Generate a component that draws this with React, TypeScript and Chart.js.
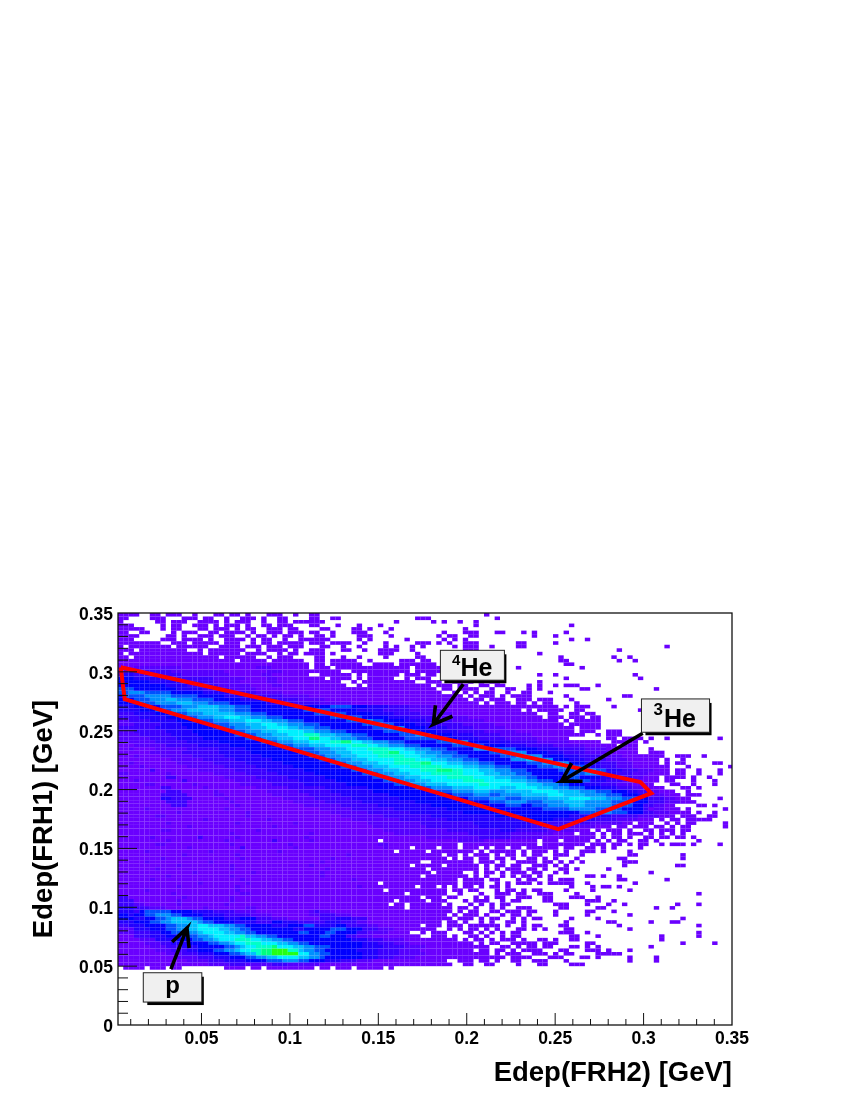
import React, { useEffect, useRef } from "react";
import { Chart, registerables } from "chart.js";

Chart.register(...registerables);

// Axis ticks (values and their labels)
const xTickValues = [0.05, 0.1, 0.15, 0.2, 0.25, 0.3, 0.35];
const xTickLabels = ["0.05", "0.1", "0.15", "0.2", "0.25", "0.3", "0.35"];
const yTickValues = [0, 0.05, 0.1, 0.15, 0.2, 0.25, 0.3, 0.35];
const yTickLabels = ["0", "0.05", "0.1", "0.15", "0.2", "0.25", "0.3", "0.35"];
const xMinorValues = [0.01, 0.02, 0.03, 0.04, 0.06, 0.07, 0.08, 0.09, 0.11, 0.12, 0.13, 0.14, 0.16, 0.17, 0.18, 0.19, 0.21, 0.22, 0.23, 0.24, 0.26, 0.27, 0.28, 0.29, 0.31, 0.32, 0.33, 0.34];
const yMinorValues = [0.01, 0.02, 0.03, 0.04, 0.06, 0.07, 0.08, 0.09, 0.11, 0.12, 0.13, 0.14, 0.16, 0.17, 0.18, 0.19, 0.21, 0.22, 0.23, 0.24, 0.26, 0.27, 0.28, 0.29, 0.31, 0.32, 0.33, 0.34];

// Histogram binning
const xFirst = 0.0028;
const binSize = 0.003;
const yTop = 0.35;

// Colour level of each bin: a..l, "." = empty bin; a number repeats the preceding symbol; @n jumps to column n.
const levelColors: Record<string, string> = {
  a: "#6a00ff", b: "#5500ff", c: "#3c00ff", d: "#2200ff", e: "#0000ff", f: "#0050ff",
  g: "#0090ff", h: "#00c0ff", i: "#00f0ff", j: "#00ffc8", k: "#00ff80", l: "#24ff14",
};
const histogramRows = [
  "a4.2a2.a3.2a.3a2.a2.a.3a3.2a@36a2@69a",
  "a2.4a3.3a3.a2.2a.2a3.a.2a2@36a2@40a2@56a3@71a",
  "a.6a2.a3.2a4.a.a3.2a.2a2.a@34a5@52a@59a@61a@64a@67a",
  "a3.5a.a2.2a3.a.a3.a.2a2.a3@36a2@41a@45a@49a@67a@85a",
  "a5.3a.a2.3a2.a3.a.a2.2a3.a2@38a2@44a2@47a@51a@65a",
  "a2.2a2.4a.a3.2a2.a4.a.2a3.a2@34a@36a2@40a@44a3@50a@61a@65a3@71a2@76a@78a@84a",
  "a4.5a2.a.2a3.a3.2a.a2.a.a2@34a@37a2@40a@45a3@51a@60a@62a2@66a2@78a@82a",
  "a3.5a3.a4.a.2a4.a.a2.2a.2a2@34a@36a4@45a@47a@54a@61a@63a@65a@85a@88a",
  "a8.2a3.a5.a3.2a.a2.a4@34a@36a3@40a4@46a@50a@56a3@60a@62a@65a3@75a2@82a",
  "a.a8.a6.2a4.a3.a3.a2@34a@38a2@42a@45a@50a@52a@55a@57a@63a@65a3@70a@75a2@103a@76a",
  "a3.a9.2a.a7.2a.a4.a@36a3@42a2@46a@49a4@55a@65a3@94a",
  "a.a14.a6.a4.2a.a2@35a4@40a@49a3@56a@64a@66a@79a",
  "a2.a16.a6.2a.a3@37a2@42a@45a@50a@56a2@83a@93a@96a",
  "a22.a5.a5@34a@37a2@40a5@47a@53a3@57a2@83a2@94a@97a",
  "a36.a2.a6.2a4.a7@84a2",
  "a3b9a14b3a7.a3.a14.a5@75a@87a",
  "b2c8b10a8b3a11.2a11.a5@64a@69a2",
  "d3c9b9a6b2a7.2a6.a.a6.a3.a2.2a.a2.a@72a@79a@82a@97a",
  "e3d8c7b6a4b2a9.a4.a.a5.2a.a3.2a.a2.a2@72a@84a@98a",
  "e6d6c6b5a5b2a12.2a.a10.2a3.2a2.a.a@70a2@79a",
  "e9d4c6b6a4b2a12.2a.a12.a3.a2.3a.a@68a@72a@77a@79a@82a@84a2@86a@90a",
  "f3e8d5c5b5a34.a2.a4.2a.3a@73a@77a@79a@87a2@101a",
  "f2g3f5e6d5c5b5a30.2a.a.a.a2.2a@73a@76a2@81a",
  "e1f4g5f5e5d6c5b5a29.a.a3.a.2a2@74a@77a@84a@95a2",
  "e3f3g3h2g3f4e5d6c5b5a27.a2.a3.2a3.a@76a2@80a2@85a@92a",
  "e4f3g4h3g3f4e7d5c5b6a24.a.a3.a2.a@76a@78a@80a2@86a",
  "d3e5f4g3h4g3f3e15f4e3d4c4b4a24.a.a3@78a3@82a@93a",
  "d4e3f3g3h6g3f3e10f5e5d5c5b6a15.a.a2@81a3@86a2@98a",
  "c3d4e3f3g3h6g3f3e9f6e5d4c5b6a16@81a2@85a2@88a2",
  "c4d5e3f3g3h2i3h2g3f3e9f6e5d4c5b6a14@81a3@85a3@89a2",
  "b2c4d5e4f3g3h3i3h2g3f3e8f3g2f2e4d4c5b6a14@84a@86a5",
  "b3c5d4e6f3g3h3i3h2g3f3e8f6e4d4c5b6a13@85a6",
  "c7d6e6f3g3h3i4h2g3f3e8f3g3e4d4c5b6a13@87a4",
  "b3c6d5e7f3g3h3i5h2g3f3e7f6e4d4c5b6a11@87a3.2a3",
  "b4c6d5e7f4g3h3i3j3h3g3f3e6f3g3e4d4c5b6a10@90a@92a3",
  "b6c5d5e8f3g3h3i3k2i2h2g3f3e6f6e4d4c5b6a6@92a2@95a4@100a@103a@113a",
  "b7c6d6e8f3g3h3i4j2k2i2h2g3f3e6f3g3e4d4c5b6a6@93a2@95a3@99a",
  "a3b6c6d6e9f3g3h3i5j3i2h2g3f3e6f6e4d4c5b6a5@92a2@95a3",
  "a2ba4b6c6d5e9f4g3h3i4j4i3h2g3f3e5g3f5e4d4c5b5a3@92a2@96a2@100a",
  "a6b6c7d6e9f4g3h3i4j3k2i3h2g3f3e6f3g4e4d3c4b5a3@96a2@100a3",
  "a3ba4b6c6d7e9f3g3h3i4j5i3h3g3f3e6f3g5e4d3c4b4a4@99a4@105a3@110a",
  "a10b6c6d7e9f3g3h3i5j4i3h3g3f3e6g3h3g2e3d3c4b4a5@99a3@103a@106a",
  "a2ba8b7c6d7e9f3g3h3i3j5k2i3h3g3f3e6f3g5e3d3c3b3a5@103a@105a2@112a2",
  "a4ba8b7c6d7e9f3g3h3i4j6i4h3g3f3e5f3g4f2d3c3b3a7@107a@115a",
  "a6ca8b7c6d7e9f3g3h3i4j3k3j2i3h3g3f3e6f4g3f2d3c3b3a3@105a2@109a@113a",
  "b2a7ba8b6c6d7e9f3g3h3i4j6i4h3g3f3e6f4g3d3c3b3a4.a2@109a@113a",
  "a9c2a9b6c6d7e9f3g3h3i5j5i4h3g3f2e5f3e4d3c3b2a3.a@104a3@108a@111a",
  "a3ba8ca9b6c6d7e9f3g3h3i6j4i5h3g2f3e4f3d3c3b3a4@103a2@108a@112a",
  "a5b2a7ba8b6c6d8e9f3g3h4i6j2i7h3g3f2e3d3c3b3a4@104a2@108a@112a",
  "a8c2a6ba9b6c7d8e9f3g4h4i5h3i4h3g3f3e3d3c3b3a3@106a2@109a",
  "a9c3a6ba9b6c6d8e11f4g4h3g3h5i5h4g3f3e3d2c2b2a3@107a",
  "a8c5a5b2a9b7c6d9e12f4g3f2g4h5i3h4g4f3e3d2b3a3@107a2@109a",
  "a8d2c4a6ba10b6c7d9e13f4g3f3g5h4i4h3g3f3e2c3b2a2@106a2@113a",
  "a9c4a8ba11b6c7d10e14f3g4f3g4h4g5f4e3c3b3a@107a2",
  "a10c3a9ba12b7c7d10e14f3e2f3g4h3g5f4e2c2b2a2@109a2@112a",
  "a5ba14ba17b6c8d10e18f5g5f5e4c2b2a3@100a@107a@114a",
  "a11ba12ba15b7c8d10e22f4g2f3e3c2b3a4@109a@112a",
  "a7b2a15ba17b8c9d12e14d8c5b4a3.a3.2a2@106a2@112a",
  "a16ba11ba15b9c9d14e6d8c4b4a3.a.a2.a2.a2@107a3",
  "a9ba12ba10ba13b10c10d14c8b6a2.a3.2a.a.a2@107a2@114a",
  "a13ba15ba18b10c10d10c6b6a3.a2.a3.a2.a.a2@106a2@114a",
  "a8b2a16ba23b12c10d3c6b5a3.a.a3.a.2a2.a.a.a2@103a",
  "a21ba14ba15b14c8b8a4.a3.a.a2.a3.a.a.a@106a",
  "a6ba8ca6ba12ba22b10c6b6a10.a.a2.a.2a2.a2.a2.a@103a@106a",
  "a9ba10ba8ca6ba12.a14b5a10.a3.a5.a.a.a2.2a2.a@109a",
  "a7b2a12ba10ba16b2a13.a14.a8.a3.a2.a.a2.2a.a3.a@102a@113a",
  "a13ba9ca9ba16ba4.a4.a3.a3.a.a2.a2.a6.a2.2a2.a.a@98a",
  "a5ba11ba12ba21.a5.a8.a.a5.a.a3.a.a.2a3.a@96a",
  "a12ba9ba20ba17.a2.a.a3.a.a2.a.a2.2a3.2a@96a2@106a",
  "a8ba14ba16ba21.a.a2.a2.a2.a.2a2.a.a.3a@94a2@106a",
  "a5ba11ba20ba18.2a8.a3.a.2a4.a2.a.a.a@95a3",
  "a11ba9ba14ba18.a5.a6.a.a2.a2.2a3.a.a@95a@105a2",
  "a7ba13ba17ba18.a9.a.a.a3.a2.a.2a2.a@92a",
  "a14ba10ba12ba20.a5.2a.a2.a.a3.a2.2a.a@100a",
  "a9ba11ba16ba18.a8.a.a.2a.a.a2.a.a@88a2@91a@94a",
  "a6ba16ba20ba19.a4.a2.3a.a2.2a.a2@85a@94a2@103a",
  "a15ba8ba24.a14.a4.2a.a.a3.a.a3@84a2@88a@97a",
  "a11ba10ba22ba10.a3.a.a.a2.a.a2.a@85a@89a@91a2@94a",
  "a5ba16ba27.a11.a2.a2.3a.a2.a.a2@84a@89a@96a",
  "a10ba12b2a29.a7.2a.3a.2a3.a2.2a@80a2@86a@109a",
  "c2a10ba8ba35.a3.a2.3a.a.a2.2a3@80a2@85a3@90a",
  "c3a8ba9ba30.a5.a3.3a.a3.2a.a2@80a2@88a3@93a",
  "c3b2a6ba8ba30.a2.a6.a.3a.a.a.a2@82a3@88a@92a@95a@105a@109a",
  "d3c3b3a7ba7b2a28.a8.a2.a.2a.a.2a3@83a2@90a2@101a@104a",
  "d3ce1f5e4d4c4b4a10bcb2a23.a.a2.2a2.a3.a2@82a@88a2@93a",
  "e2de2f2g3f2e4d4c5b4a7b2c3b3a18.a.a3.a.2a.a2.a@82a@88a@96a",
  "e3d2e2f2g1h3g1f2e4d3e3c3b3a6c3d3c3a16.a3.a.a2.2a.a.a2@85a@90a@106a",
  "d3e3f2g2h5g1f2e4d4c3e2d3c5d3c3b2a14.a2.a.2a.a.2a2.a@84a@92a2@100a@104a2",
  "c2d3e4f2g2h2i2h3g2f2e5d3e3f2d4e2c4b2a8.a3.a3.a6.a.2a.a2@83a2@94a@109a",
  "b3d3e3f2g2h2i4h2g2f2e8d2e5f3e3c3b3a8.2a.a.a2.a.a.3a2.a.a@84a2@96a",
  "b3c3d2e2f3g2h1i4h2g2f2e8f2e3f2e4c2b4a4.2a.a3.3a2.a.a.a.a2@83a3@88a@109a",
  "a3c3d3e4f2g2h1i5j1h2g2f2e8f2e3c2b3a9.2a3.a.2a2.a.2a.a2@85a2@90a@102a@109a",
  "a4b3d4e3f2g2h1i3j3i2h2g2f2e11d3c3b4a10.a.a2.a.a3.a@79a2.a@85a2@102a",
  "a5b3c2d3e4f2g2h1i2j3i3h2g2f2e10d3c3b3a12.a.a2.2a3@75a.a2@80a3@88a2@106a@112a",
  "a6b3c3d3e5f2gh1i2j3ki3h2g2f3e6d4c4b4a12.2a2.a@77a2.a2@85a2.a@90a@100a",
  "a7b3c3d2e3f2g2h1i2j2k2l3j2hg2f2e6d4c4b4a10.a2.a2.a.2a3@76a2.a@83a2@88a3.a@96a",
  "a9b3c3d3e3f2gh2jk2l5i2g2f2e6d3c4b5a12.a.a3.2a@79a2.a@84a2@90a3@93a2",
  "a11b4c3d3e3f2g2h2i4h2g2fe7d3c3b4a14.a2.a3@70a2@75a3@81a3@87a2@90a@96a@101a",
  "a13b4c3d4e4f3g3f2e3d3c3b3a14.2a3@68a2.a@74a2@78a3@84a@96a@101a",
  "a17b4c3b5c3b6a18@52.3a8@65a2@69a2@75a@79a2@85a2@87a",
  ".a4.a3.a2.8a4.a2.a9.a2.a3.a5.a@47a",
];

// Red selection polygon (closed)
const polygonX = [0.0043, 0.0066, 0.2518, 0.3044, 0.2982, 0.0043];
const polygonY = [0.3039, 0.2767, 0.1664, 0.1969, 0.2063, 0.3039];

// Arrows: tail, tip, head barb, tip, head barb
const arrow4HeX = [0.198, 0.1811, 0.1919, 0.1811, 0.1823];
const arrow4HeY = [0.2895, 0.2555, 0.2623, 0.2555, 0.2716];
const arrow3HeX = [0.2995, 0.2536, 0.2655, 0.2536, 0.2593];
const arrow3HeY = [0.2479, 0.2071, 0.2071, 0.2071, 0.2224];
const arrowPX = [0.0327, 0.0418, 0.0334, 0.0418, 0.043];
const arrowPY = [0.0475, 0.0823, 0.0705, 0.0823, 0.0654];

// Label boxes: x0, x1, y0, y1 in data units
const box4He = [0.1851, 0.2213, 0.3183, 0.2929];
const box3He = [0.2988, 0.3373, 0.277, 0.2487];
const boxP = [0.0171, 0.0502, 0.0444, 0.0195];

const FONT = '"Liberation Sans", Arial, sans-serif';

function decodeRows() {
  const byLevel: Record<string, Map<number, { x: number; y: number }>> = {};
  histogramRows.forEach((row, j) => {
    let col = 0;
    for (const m of row.matchAll(/@(\d+)|([.a-l])(\d*)/g)) {
      if (m[1]) {
        col = parseInt(m[1], 10);
        continue;
      }
      const n = m[3] ? parseInt(m[3], 10) : 1;
      for (let k = 0; k < n; k++) {
        if (m[2] !== "." && col < 116) {
          const key = j * 1000 + col;
          (byLevel[m[2]] ||= new Map()).set(key, {
            x: xFirst + (col + 0.5) * binSize,
            y: yTop - (j + 0.5) * binSize,
          });
        }
        col++;
      }
    }
  });
  return byLevel;
}

function zip(xs: number[], ys: number[]) {
  return xs.map((x, i) => ({ x, y: ys[i] }));
}

const overlayPlugin = {
  id: "overlay",
  afterDatasetsDraw(chart: any) {
    const { ctx, chartArea: a, scales } = chart;
    const X = (v: number) => scales.x.getPixelForValue(v);
    const Y = (v: number) => scales.y.getPixelForValue(v);
    ctx.save();
    ctx.strokeStyle = "#111";
    ctx.lineWidth = 1;
    const seg = (x0: number, y0: number, x1: number, y1: number) => {
      ctx.beginPath();
      ctx.moveTo(x0, y0);
      ctx.lineTo(x1, y1);
      ctx.stroke();
    };
    xTickValues.slice(0, -1).forEach((v) => seg(X(v), a.bottom, X(v), a.bottom - 12));
    xMinorValues.forEach((v) => seg(X(v), a.bottom, X(v), a.bottom - 6));
    yTickValues.slice(1, -1).forEach((v) => seg(a.left, Y(v), a.left + 19, Y(v)));
    yMinorValues.forEach((v) => seg(a.left, Y(v), a.left + 10, Y(v)));
    ctx.lineWidth = 1.3;
    ctx.strokeRect(a.left, a.top, a.right - a.left, a.bottom - a.top);

    const drawBox = (b: number[]) => {
      const x0 = X(b[0]), x1 = X(b[1]), y0 = Y(b[2]), y1 = Y(b[3]);
      ctx.fillStyle = "#000";
      ctx.fillRect(x0 + 4, y0 + 4, x1 - x0 - 2, y1 - y0 - 1);
      ctx.fillStyle = "#f0f0f0";
      ctx.fillRect(x0, y0, x1 - x0, y1 - y0);
      ctx.strokeStyle = "#222";
      ctx.lineWidth = 1;
      ctx.strokeRect(x0, y0, x1 - x0, y1 - y0);
    };
    drawBox(box4He);
    drawBox(box3He);
    drawBox(boxP);
    ctx.fillStyle = "#000";
    ctx.textBaseline = "alphabetic";
    ctx.textAlign = "left";
    const bx = (b: number[], dx: number) => X(b[0]) + dx;
    const by = (b: number[], dy: number) => Y(b[2]) + dy;
    ctx.font = `bold 15px ${FONT}`;
    ctx.fillText("4", bx(box4He, 11.5), by(box4He, 15));
    ctx.font = `bold 25px ${FONT}`;
    ctx.fillText("He", bx(box4He, 20), by(box4He, 26));
    ctx.font = `bold 17px ${FONT}`;
    ctx.fillText("3", bx(box3He, 12), by(box3He, 16));
    ctx.font = `bold 25px ${FONT}`;
    ctx.fillText("He", bx(box3He, 22.5), by(box3He, 28));
    ctx.font = `bold 24px ${FONT}`;
    ctx.fillText("p", bx(boxP, 22), by(boxP, 20));
    ctx.restore();
  },
};

export default function App() {
  const ref = useRef<HTMLCanvasElement | null>(null);
  useEffect(() => {
    const byLevel = decodeRows();
    const cellSets = Object.keys(levelColors).map((lvl) => ({
      type: "scatter" as const,
      label: lvl,
      data: byLevel[lvl] ? Array.from(byLevel[lvl].values()) : [],
      showLine: false,
      pointStyle: "line" as const,
      pointRadius: 2.7,
      pointBorderWidth: 3.62,
      pointBorderColor: levelColors[lvl],
      pointBackgroundColor: levelColors[lvl],
      order: 10,
    }));
    const lineSet = (label: string, data: { x: number; y: number }[], color: string, w: number) => ({
      type: "scatter" as const,
      label,
      data,
      showLine: true,
      pointRadius: 0,
      borderColor: color,
      borderWidth: w,
      borderJoinStyle: "miter" as const,
      tension: 0,
      order: 1,
    });
    const chart = new Chart(ref.current as HTMLCanvasElement, {
      type: "scatter",
      data: {
        datasets: [
          lineSet("4He arrow", zip(arrow4HeX, arrow4HeY), "#000", 3.6),
          lineSet("3He arrow", zip(arrow3HeX, arrow3HeY), "#000", 3.6),
          lineSet("p arrow", zip(arrowPX, arrowPY), "#000", 3.6),
          lineSet("cut", zip(polygonX, polygonY), "#ff0000", 4),
          ...cellSets,
        ] as any,
      },
      options: {
        responsive: false,
        animation: false,
        events: [],
        layout: { padding: { top: 613, right: 118, left: 0, bottom: 0 } },
        plugins: { legend: { display: false }, tooltip: { enabled: false } },
        scales: {
          x: {
            type: "linear",
            min: xFirst,
            max: 0.35,
            border: { display: false },
            grid: { display: false, drawTicks: false },
            afterBuildTicks: (s: any) => {
              s.ticks = xTickValues.map((value) => ({ value }));
            },
            afterFit: (s: any) => {
              s.height = 75;
            },
            ticks: {
              autoSkip: false,
              maxRotation: 0,
              padding: 4,
              color: "#000",
              font: { family: FONT, weight: "bold", size: 17.5 },
              callback: (v: any) => xTickLabels[xTickValues.indexOf(v)] ?? "",
            },
            title: {
              display: true,
              text: "Edep(FRH2) [GeV]",
              align: "end",
              color: "#000",
              padding: { top: 0, bottom: 10 },
              font: { family: FONT, weight: "bold", size: 27.5 },
            },
          },
          y: {
            type: "linear",
            min: 0,
            max: 0.35,
            border: { display: false },
            grid: { display: false, drawTicks: false },
            afterBuildTicks: (s: any) => {
              s.ticks = yTickValues.map((value) => ({ value }));
            },
            afterFit: (s: any) => {
              s.width = 118;
            },
            ticks: {
              autoSkip: false,
              padding: 5,
              labelOffset: 2,
              color: "#000",
              font: { family: FONT, weight: "bold", size: 17.5 },
              callback: (v: any) => yTickLabels[yTickValues.indexOf(v)] ?? "",
            },
            title: {
              display: true,
              text: "Edep(FRH1) [GeV]",
              align: "center",
              color: "#000",
              padding: { top: 28, bottom: 0 },
              font: { family: FONT, weight: "bold", size: 27.5 },
            },
          },
        },
      } as any,
      plugins: [overlayPlugin],
    });
    return () => chart.destroy();
  }, []);
  return (
    <canvas
      ref={ref}
      width={850}
      height={1100}
      style={{ position: "absolute", left: 0, top: 0, width: 850, height: 1100 }}
    />
  );
}
